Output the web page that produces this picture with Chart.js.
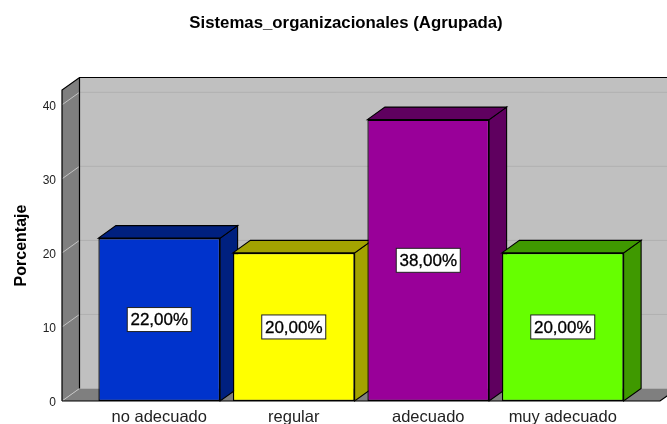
<!DOCTYPE html>
<html>
<head>
<meta charset="utf-8">
<style>
  html, body { margin: 0; padding: 0; background: #fff; overflow: hidden; }
  #wrap { width: 667px; height: 424px; }
</style>
<script src="https://cdn.jsdelivr.net/npm/chart.js@4"></script>
</head>
<body>
<div id="wrap"><canvas id="chart"></canvas></div>
<script>
const categories = ['no adecuado', 'regular', 'adecuado', 'muy adecuado'];
const percentages = [22, 20, 38, 20];
const frontColors = ['#0033cc', '#ffff00', '#990099', '#66ff00'];
const sideColors = ['#00207f', '#a3a300', '#5f005f', '#3f9900'];

const depthX = 17.5;
const depthY = 12.5;
const wallGap = 30; // the box sticks out past the category band

function poly(ctx, pts, fill, stroke, lineWidth) {
  ctx.beginPath();
  pts.forEach((p, i) => i ? ctx.lineTo(p[0], p[1]) : ctx.moveTo(p[0], p[1]));
  ctx.closePath();
  ctx.fillStyle = fill;
  ctx.fill();
  if (stroke) {
    ctx.strokeStyle = stroke;
    ctx.lineWidth = lineWidth;
    ctx.stroke();
  }
}

// walls, floor and grid of the 3D box
const boxPlugin = {
  id: 'box',
  beforeDatasetsDraw(chart) {
    const { ctx, chartArea, scales } = chart;
    const l = chartArea.left - wallGap;
    const r = chartArea.right + wallGap;
    const t = chartArea.top;
    const b = chartArea.bottom;
    ctx.save();
    poly(ctx, [[l + depthX, t - depthY], [r + depthX, t - depthY], [r + depthX, b - depthY], [l + depthX, b - depthY]], '#c0c0c0');
    poly(ctx, [[l, b], [l + depthX, b - depthY], [r + depthX, b - depthY], [r, b]], '#7f7f7f');
    poly(ctx, [[l, t], [l + depthX, t - depthY], [l + depthX, b - depthY], [l, b]], '#7f7f7f');

    ctx.lineWidth = 1;
    scales.y.ticks.forEach(tick => {
      const y = scales.y.getPixelForValue(tick.value);
      ctx.strokeStyle = '#c4c4c4';
      ctx.beginPath();
      ctx.moveTo(l, y);
      ctx.lineTo(l + depthX, y - depthY);
      ctx.stroke();
      if (tick.value > 0) {
        ctx.strokeStyle = '#b0b0b0';
        ctx.beginPath();
        ctx.moveTo(l + depthX, y - depthY);
        ctx.lineTo(r + depthX, y - depthY);
        ctx.stroke();
      }
    });

    ctx.strokeStyle = '#000';
    ctx.lineWidth = 1.2;
    ctx.beginPath();
    ctx.moveTo(l, b);
    ctx.lineTo(l, t);
    ctx.lineTo(l + depthX, t - depthY);
    ctx.lineTo(r + depthX, t - depthY);
    ctx.moveTo(l + depthX, t - depthY);
    ctx.lineTo(l + depthX, b - depthY);
    ctx.moveTo(l, b);
    ctx.lineTo(r, b);
    ctx.lineTo(r + depthX, b - depthY);
    ctx.stroke();

    // side and top faces, left to right
    chart.getDatasetMeta(0).data.forEach((bar, i) => {
      const x0 = bar.x - bar.width / 2;
      const x1 = bar.x + bar.width / 2;
      poly(ctx, [[x1, bar.y], [x1 + depthX, bar.y - depthY], [x1 + depthX, bar.base - depthY], [x1, bar.base]], sideColors[i], '#000', 1.1);
      poly(ctx, [[x0, bar.y], [x0 + depthX, bar.y - depthY], [x1 + depthX, bar.y - depthY], [x1, bar.y]], sideColors[i], '#000', 1.1);
    });
    ctx.restore();
  },
  afterDatasetsDraw(chart) {
    const { ctx } = chart;
    ctx.save();
    ctx.font = '17px "Liberation Sans", Arial, sans-serif';
    ctx.textAlign = 'center';
    ctx.textBaseline = 'middle';
    chart.getDatasetMeta(0).data.forEach((bar, i) => {
      const label = percentages[i].toFixed(2).replace('.', ',') + '%';
      const my = (bar.y + bar.base) / 2;
      const w = 64;
      const h = 24;
      ctx.fillStyle = '#fff';
      ctx.fillRect(bar.x - w / 2, my - h / 2, w, h);
      ctx.strokeStyle = '#222';
      ctx.lineWidth = 1;
      ctx.strokeRect(bar.x - w / 2, my - h / 2, w, h);
      ctx.fillStyle = '#000';
      ctx.strokeStyle = '#000';
      ctx.lineWidth = 0.3;
      ctx.fillText(label, bar.x, my + 1);
      ctx.strokeText(label, bar.x, my + 1);
    });
    ctx.restore();
  }
};

new Chart(document.getElementById('chart'), {
  type: 'bar',
  data: {
    labels: categories,
    datasets: [{
      data: percentages,
      backgroundColor: frontColors,
      borderColor: '#000',
      borderWidth: 1.3,
      borderSkipped: false,
      barPercentage: 0.905,
      categoryPercentage: 1
    }]
  },
  plugins: [boxPlugin],
  options: {
    responsive: true,
    maintainAspectRatio: false,
    animation: false,
    layout: { padding: { left: 25, right: 0, top: 0, bottom: 0 } },
    plugins: {
      legend: { display: false },
      tooltip: { enabled: false },
      title: {
        display: true,
        text: 'Sistemas_organizacionales (Agrupada)',
        color: '#000',
        font: { family: '"Liberation Sans", Arial, sans-serif', size: 16.8, weight: 'bold' },
        padding: { top: 13, bottom: 56.84 }
      }
    },
    scales: {
      x: {
        afterFit: s => { s.height = 23; },
        grid: { display: false, drawTicks: false },
        border: { display: false },
        ticks: {
          color: '#222',
          padding: 7,
          maxRotation: 0,
          autoSkip: false,
          font: { family: '"Liberation Sans", Arial, sans-serif', size: 16.5 }
        }
      },
      y: {
        min: 0,
        max: 42,
        afterFit: s => { s.width = 67; },
        afterBuildTicks: s => { s.ticks = s.ticks.filter(t => t.value % 10 === 0); },
        grid: { display: false, drawTicks: true, tickLength: 36 },
        border: { display: false },
        title: {
          display: true,
          text: 'Porcentaje',
          color: '#000',
          font: { family: '"Liberation Sans", Arial, sans-serif', size: 16, weight: 'bold' },
          padding: { top: -13, bottom: 0 }
        },
        ticks: {
          color: '#222',
          padding: 0,
          labelOffset: 2,
          stepSize: 10,
          font: { family: '"Liberation Sans", Arial, sans-serif', size: 12 }
        }
      },
      // empty axis, only keeps the category band clear of the right edge
      spacer: {
        axis: 'y',
        position: 'right',
        afterFit: s => { s.width = 37; },
        grid: { display: false, drawTicks: false },
        border: { display: false },
        ticks: { display: false }
      }
    }
  }
});
</script>
</body>
</html>
